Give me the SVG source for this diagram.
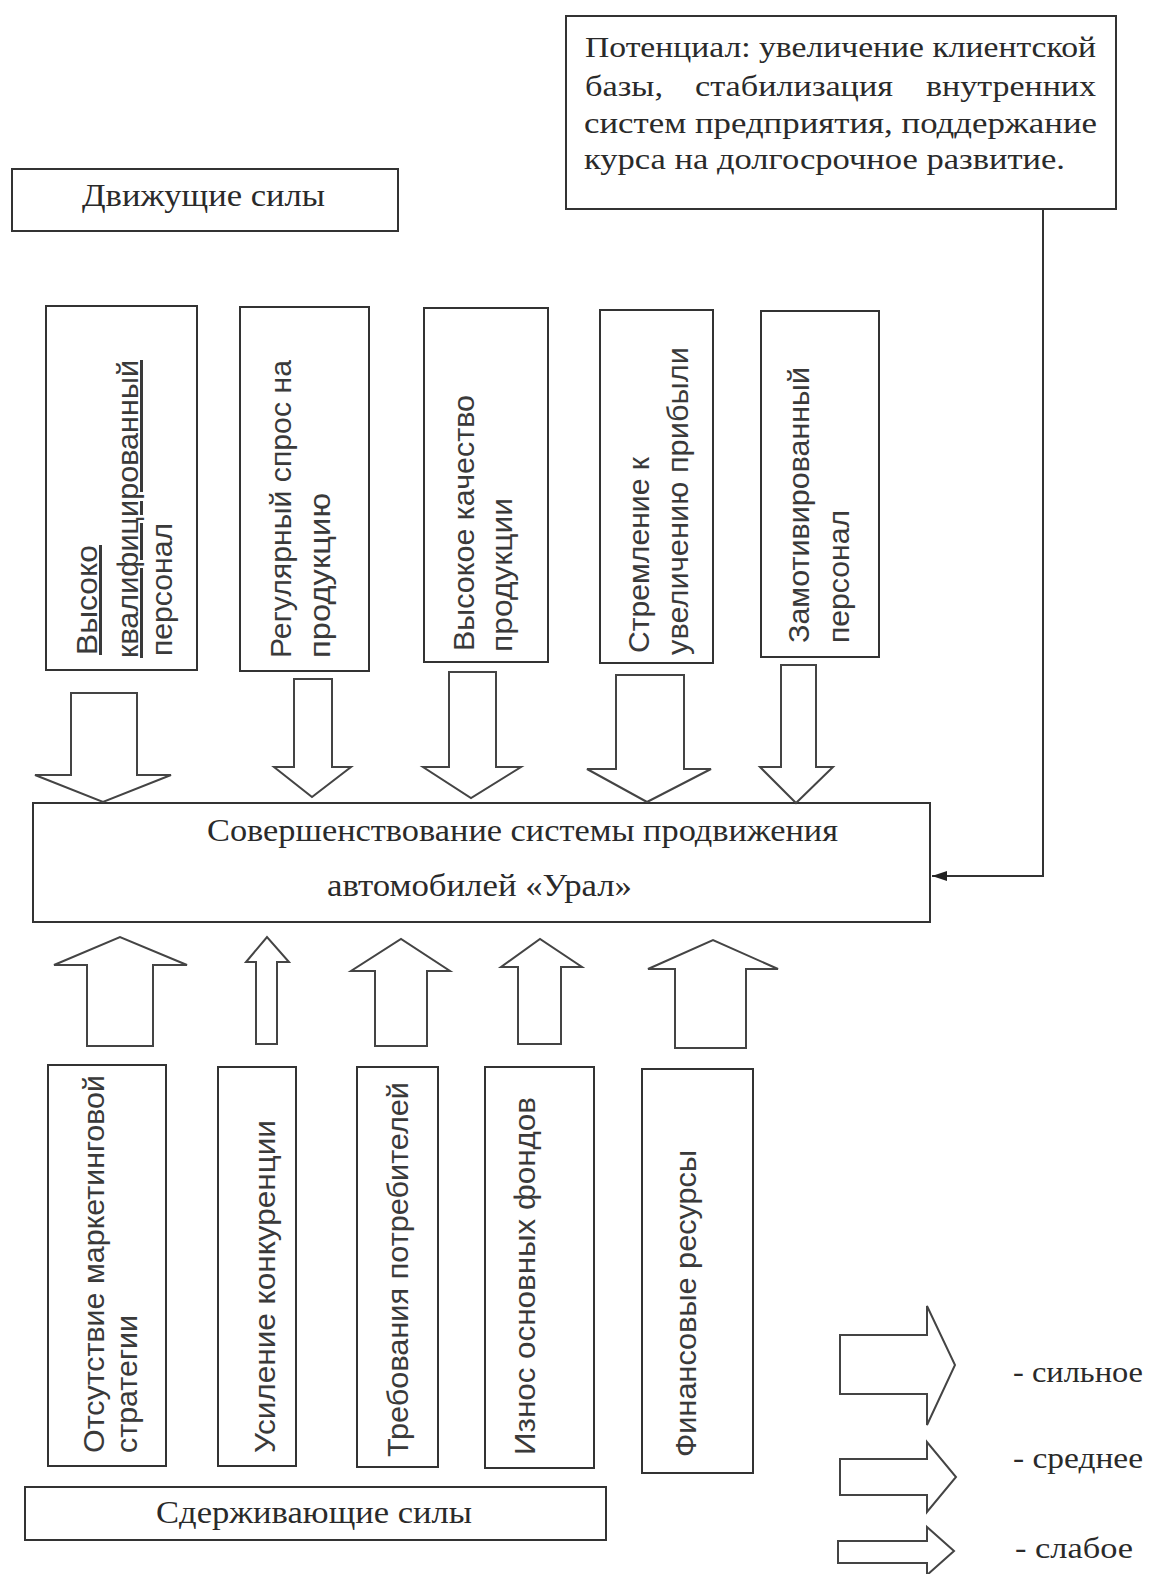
<svg xmlns="http://www.w3.org/2000/svg" width="1156" height="1574" viewBox="0 0 1156 1574">
<style>
.box{fill:#fff;stroke:#333;stroke-width:2}
.arr{fill:#fff;stroke:#444;stroke-width:2;stroke-linejoin:miter}
.serif{font-family:"Liberation Serif","Times New Roman",serif;fill:#2a2a2a}
.sans{font-family:"Liberation Sans",Arial,sans-serif;fill:#3a3a3a;font-size:30px}
.ul{text-decoration:underline}
</style>
<defs>
<marker id="ah" markerWidth="16" markerHeight="12" refX="15" refY="6" orient="auto" markerUnits="userSpaceOnUse">
<path d="M0,1 L15,6 L0,11 Z" fill="#222"/>
</marker>
</defs>
<rect width="1156" height="1574" fill="#fff"/>

<g id="potential">
<rect class="box" x="566" y="16" width="550" height="193"/>
<text class="serif" font-size="30" x="585" y="57" textLength="511" lengthAdjust="spacingAndGlyphs">Потенциал: увеличение клиентской</text>
<text class="serif" font-size="30" x="585" y="96" textLength="78" lengthAdjust="spacingAndGlyphs">базы,</text>
<text class="serif" font-size="30" x="695" y="96" textLength="198" lengthAdjust="spacingAndGlyphs">стабилизация</text>
<text class="serif" font-size="30" x="926" y="96" textLength="170" lengthAdjust="spacingAndGlyphs">внутренних</text>
<text class="serif" font-size="30" x="584" y="133" textLength="513" lengthAdjust="spacingAndGlyphs">систем предприятия, поддержание</text>
<text class="serif" font-size="30" x="584" y="169" textLength="481" lengthAdjust="spacingAndGlyphs">курса на долгосрочное развитие.</text>
</g>

<g id="driving-title">
<rect class="box" x="12" y="169" width="386" height="62"/>
<text class="serif" font-size="31" x="82" y="206" textLength="243" lengthAdjust="spacingAndGlyphs">Движущие силы</text>
</g>

<g id="d1">
<rect class="box" x="46" y="306" width="151" height="364"/>
<text class="sans ul" transform="translate(97,655) rotate(-90)" textLength="110" lengthAdjust="spacingAndGlyphs">Высоко</text>
<text class="sans ul" transform="translate(138,658) rotate(-90)" textLength="298" lengthAdjust="spacingAndGlyphs">квалифицированный</text>
<text class="sans" transform="translate(172,656) rotate(-90)" textLength="133" lengthAdjust="spacingAndGlyphs">персонал</text>
</g>
<g id="d2">
<rect class="box" x="240" y="307" width="129" height="364"/>
<text class="sans" transform="translate(291,658) rotate(-90)" textLength="298" lengthAdjust="spacingAndGlyphs">Регулярный спрос на</text>
<text class="sans" transform="translate(330,658) rotate(-90)" textLength="165" lengthAdjust="spacingAndGlyphs">продукцию</text>
</g>
<g id="d3">
<rect class="box" x="424" y="308" width="124" height="354"/>
<text class="sans" transform="translate(474,651) rotate(-90)" textLength="256" lengthAdjust="spacingAndGlyphs">Высокое качество</text>
<text class="sans" transform="translate(512,652) rotate(-90)" textLength="154" lengthAdjust="spacingAndGlyphs">продукции</text>
</g>
<g id="d4">
<rect class="box" x="600" y="310" width="113" height="353"/>
<text class="sans" transform="translate(649,653) rotate(-90)" textLength="196" lengthAdjust="spacingAndGlyphs">Стремление к</text>
<text class="sans" transform="translate(688,655) rotate(-90)" textLength="308" lengthAdjust="spacingAndGlyphs">увеличению прибыли</text>
</g>
<g id="d5">
<rect class="box" x="761" y="311" width="118" height="346"/>
<text class="sans" transform="translate(809,643) rotate(-90)" textLength="276" lengthAdjust="spacingAndGlyphs">Замотивированный</text>
<text class="sans" transform="translate(849,643) rotate(-90)" textLength="133" lengthAdjust="spacingAndGlyphs">персонал</text>
</g>

<g id="center">
<rect class="box" x="33" y="803" width="897" height="119"/>
<text class="serif" font-size="32" x="207" y="841" textLength="631" lengthAdjust="spacingAndGlyphs">Совершенствование системы продвижения</text>
<text class="serif" font-size="32" x="327" y="896" textLength="305" lengthAdjust="spacingAndGlyphs">автомобилей «Урал»</text>
</g>

<g id="r1">
<rect class="box" x="48" y="1065" width="118" height="401"/>
<text class="sans" transform="translate(104,1453) rotate(-90)" textLength="378" lengthAdjust="spacingAndGlyphs">Отсутствие маркетинговой</text>
<text class="sans" transform="translate(137,1453) rotate(-90)" textLength="138" lengthAdjust="spacingAndGlyphs">стратегии</text>
</g>
<g id="r2">
<rect class="box" x="218" y="1067" width="78" height="399"/>
<text class="sans" transform="translate(275,1453) rotate(-90)" textLength="333" lengthAdjust="spacingAndGlyphs">Усиление конкуренции</text>
</g>
<g id="r3">
<rect class="box" x="357" y="1067" width="81" height="400"/>
<text class="sans" transform="translate(408,1457) rotate(-90)" textLength="375" lengthAdjust="spacingAndGlyphs">Требования потребителей</text>
</g>
<g id="r4">
<rect class="box" x="485" y="1067" width="109" height="401"/>
<text class="sans" transform="translate(535,1455) rotate(-90)" textLength="358" lengthAdjust="spacingAndGlyphs">Износ  основных фондов</text>
</g>
<g id="r5">
<rect class="box" x="642" y="1069" width="111" height="404"/>
<text class="sans" transform="translate(696,1457) rotate(-90)" textLength="307" lengthAdjust="spacingAndGlyphs">Финансовые ресурсы</text>
</g>

<g id="restraining-title">
<rect class="box" x="25" y="1487" width="581" height="53"/>
<text class="serif" font-size="31" x="156" y="1523" textLength="316" lengthAdjust="spacingAndGlyphs">Сдерживающие силы</text>
</g>

<g id="connectors">
<polygon class="arr" points="71,693 137,693 137,775 171,775 103,802 35,775 71,775"/>
<polygon class="arr" points="294,679 332,679 332,767 351,767 312,797 274,767 294,767"/>
<polygon class="arr" points="449,672 496,672 496,767 521,767 471,798 423,767 449,767"/>
<polygon class="arr" points="616,675 684,675 684,769 711,769 647,802 587,769 616,769"/>
<polygon class="arr" points="781,665 816,665 816,767 833,767 796,803 760,767 781,767"/>

<polygon class="arr" points="87,1046 153,1046 153,965 187,965 120,937 54,965 87,965"/>
<polygon class="arr" points="256,1044 277,1044 277,962 289,962 267,937 246,962 256,962"/>
<polygon class="arr" points="375,1046 427,1046 427,971 450,971 401,939 351,971 375,971"/>
<polygon class="arr" points="518,1044 561,1044 561,967 582,967 540,939 501,967 518,967"/>
<polygon class="arr" points="675,1048 746,1048 746,969 778,969 713,940 648,969 675,969"/>

<polyline points="1043,209 1043,876 932,876" fill="none" stroke="#333" stroke-width="2" marker-end="url(#ah)"/>
</g>

<g id="legend">
<polygon class="arr" points="840,1335 927,1335 927,1306 955,1365 927,1425 927,1394 840,1394"/>
<polygon class="arr" points="840,1459 927,1459 927,1442 956,1477 927,1512 927,1495 840,1495"/>
<polygon class="arr" points="838,1541 927,1541 927,1527 954,1551 927,1575 927,1563 838,1563"/>
<text class="serif" font-size="30" x="1013" y="1382" textLength="130" lengthAdjust="spacingAndGlyphs">- сильное</text>
<text class="serif" font-size="30" x="1013" y="1468" textLength="130" lengthAdjust="spacingAndGlyphs">- среднее</text>
<text class="serif" font-size="30" x="1015" y="1558" textLength="118" lengthAdjust="spacingAndGlyphs">- слабое</text>
</g>
</svg>
